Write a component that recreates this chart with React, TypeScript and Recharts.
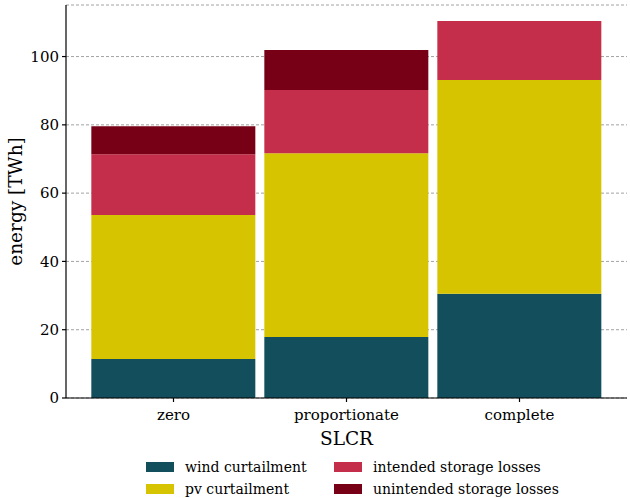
import React from 'react';
import {
  BarChart,
  Bar,
  XAxis,
  YAxis,
  CartesianGrid,
} from 'recharts';

const categories = ['zero', 'proportionate', 'complete'];
const windCurtailment = [11.4, 17.9, 30.5];
const pvCurtailment = [42.2, 53.8, 62.6];
const intendedLosses = [17.8, 18.5, 17.3];
const unintendedLosses = [8.2, 11.7, 0];
const yTicks = [0, 20, 40, 60, 80, 100];

const series = [
  { key: 'wind', name: 'wind curtailment', color: '#124E5B' },
  { key: 'pv', name: 'pv curtailment', color: '#D6C400' },
  { key: 'intended', name: 'intended storage losses', color: '#C42E4A' },
  { key: 'unintended', name: 'unintended storage losses', color: '#770016' },
];

const data = categories.map((c, i) => ({
  name: c,
  wind: windCurtailment[i],
  pv: pvCurtailment[i],
  intended: intendedLosses[i],
  unintended: unintendedLosses[i],
}));

const FONT = '"DejaVu Serif", serif';

// rotated y-axis title, centred on the plot height
const YTitle = (props: any) => {
  const vb = props.viewBox || {};
  const cy = vb.y + vb.height / 2;
  const cx = 15;
  return (
    <text
      x={cx}
      y={cy}
      transform={`rotate(-90 ${cx} ${cy})`}
      textAnchor="middle"
      dominantBaseline="central"
      fill="#000"
      fontSize={18.5}
      fontFamily={FONT}
    >
      energy [TWh]
    </text>
  );
};

export default function App() {
  // legend order: column-wise like matplotlib ncol=2
  const legendOrder = [series[0], series[2], series[1], series[3]];
  return (
    <div style={{ position: 'absolute', left: 0, top: 0, width: 630, height: 498, background: '#fff', fontFamily: FONT }}>
      <BarChart
        width={630}
        height={498}
        data={data}
        margin={{ top: 5, right: 3, bottom: 50, left: 8 }}
        barCategoryGap="2.5%"
      >
        <CartesianGrid vertical={false} stroke="#8c8c8c" strokeDasharray="3 2" strokeWidth={0.8} />
        <XAxis
          dataKey="name"
          padding={{ left: 21, right: 21 }}
          height={50}
          tickSize={4}
          tickMargin={7}
          stroke="#000"
          strokeWidth={1.2}
          tick={{ fill: '#000', fontSize: 15, fontFamily: FONT }}
          label={{ value: 'SLCR', position: 'insideBottom', offset: 3, fill: '#000', fontSize: 18.5, fontFamily: FONT }}
        />
        <XAxis xAxisId="top" orientation="top" dataKey="name" height={0} tick={false} tickLine={false} stroke="#000" strokeWidth={1.2} />
        <YAxis
          domain={[0, 115.1]}
          ticks={yTicks}
          width={58}
          tickSize={4}
          tickMargin={3}
          stroke="#000"
          strokeWidth={1.2}
          tick={{ fill: '#000', fontSize: 15, fontFamily: FONT }}
          label={<YTitle />}
        />
        <YAxis yAxisId="right" orientation="right" width={0} tick={false} tickLine={false} stroke="#000" strokeWidth={1.2} />
        {series.map((s) => (
          <Bar key={s.key} dataKey={s.key} name={s.name} stackId="a" fill={s.color} isAnimationActive={false} />
        ))}
      </BarChart>
      <div
        style={{
          position: 'absolute',
          left: 146,
          top: 457,
          display: 'grid',
          gridTemplateColumns: '188px auto',
          rowGap: 3,
          fontSize: 14,
          color: '#000',
        }}
      >
        {legendOrder.map((s) => (
          <div key={s.key} style={{ display: 'flex', alignItems: 'center', height: 19 }}>
            <span style={{ display: 'inline-block', width: 28, height: 10, background: s.color, marginRight: 11 }} />
            <span>{s.name}</span>
          </div>
        ))}
      </div>
    </div>
  );
}
